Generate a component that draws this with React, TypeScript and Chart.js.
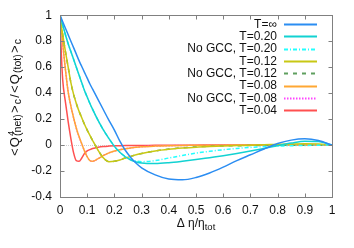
import React, { useEffect, useRef } from "react";
import { Chart, registerables } from "chart.js";

Chart.register(...registerables);

const xGrid = [0, 0.005, 0.01, 0.02, 0.03, 0.04, 0.05, 0.06, 0.07, 0.08, 0.09, 0.1, 0.11, 0.12, 0.14, 0.16, 0.18, 0.2, 0.22, 0.24, 0.26, 0.28, 0.3, 0.35, 0.4, 0.45, 0.5, 0.55, 0.6, 0.65, 0.7, 0.75, 0.8, 0.85, 0.9, 0.95, 1];

const tInf = [1, 0.975, 0.95, 0.9, 0.85, 0.8, 0.75, 0.7, 0.65, 0.605, 0.56, 0.515, 0.47, 0.43, 0.35, 0.27, 0.19, 0.115, 0.03, -0.04, -0.095, -0.14, -0.175, -0.23, -0.262, -0.268, -0.25, -0.215, -0.17, -0.12, -0.075, -0.03, 0.012, 0.038, 0.048, 0.035, 0];
const t020 = [1, 0.96, 0.925, 0.85, 0.78, 0.72, 0.66, 0.6, 0.54, 0.48, 0.42, 0.37, 0.32, 0.275, 0.19, 0.115, 0.05, -0.01, -0.055, -0.09, -0.115, -0.13, -0.138, -0.142, -0.136, -0.125, -0.112, -0.097, -0.082, -0.065, -0.046, -0.026, -0.005, 0.015, 0.03, 0.027, 0];
const noGcc020 = [1, 0.96, 0.925, 0.85, 0.78, 0.72, 0.66, 0.6, 0.54, 0.48, 0.42, 0.37, 0.32, 0.275, 0.19, 0.115, 0.05, -0.01, -0.055, -0.088, -0.11, -0.123, -0.128, -0.12, -0.1, -0.08, -0.062, -0.048, -0.036, -0.026, -0.018, -0.012, -0.008, -0.005, -0.003, -0.001, 0];
const t012 = [1, 0.92, 0.85, 0.72, 0.6, 0.48, 0.39, 0.32, 0.26, 0.21, 0.16, 0.115, 0.075, 0.035, -0.04, -0.1, -0.128, -0.125, -0.115, -0.1, -0.087, -0.075, -0.065, -0.045, -0.032, -0.023, -0.016, -0.011, -0.007, -0.004, -0.001, 0.002, 0.005, 0.008, 0.01, 0.008, 0];
const noGcc012 = [1, 0.92, 0.85, 0.72, 0.6, 0.48, 0.39, 0.32, 0.26, 0.21, 0.16, 0.115, 0.075, 0.035, -0.04, -0.1, -0.128, -0.125, -0.115, -0.1, -0.087, -0.075, -0.065, -0.045, -0.031, -0.021, -0.014, -0.01, -0.007, -0.005, -0.004, -0.003, -0.002, -0.001, -0.001, 0, 0];
const t008 = [1, 0.89, 0.78, 0.58, 0.41, 0.3, 0.21, 0.13, 0.065, 0.01, -0.045, -0.09, -0.12, -0.125, -0.105, -0.08, -0.06, -0.046, -0.036, -0.028, -0.022, -0.017, -0.013, -0.008, -0.005, -0.003, -0.002, -0.001, -0.001, 0, 0, 0, 0, 0, 0, 0, 0];
const noGcc008 = [1, 0.89, 0.78, 0.58, 0.41, 0.3, 0.21, 0.13, 0.065, 0.01, -0.045, -0.09, -0.12, -0.125, -0.105, -0.08, -0.06, -0.046, -0.036, -0.028, -0.022, -0.017, -0.013, -0.008, -0.005, -0.003, -0.002, -0.001, -0.001, 0, 0, 0, 0, 0, 0, 0, 0];
const t004 = [1, 0.7, 0.5, 0.33, 0.18, 0.05, -0.06, -0.12, -0.125, -0.1, -0.065, -0.045, -0.035, -0.027, -0.017, -0.011, -0.008, -0.006, -0.005, -0.004, -0.004, -0.003, -0.003, -0.002, -0.002, -0.001, -0.001, 0, 0, 0, 0, 0, 0, 0, 0, 0, 0];

const seriesLabels = ["T=∞", "T=0.20", "No GCC, T=0.20", "T=0.12", "No GCC, T=0.12", "T=0.08", "No GCC, T=0.08", "T=0.04"];
const seriesValues = [tInf, t020, noGcc020, t012, noGcc012, t008, noGcc008, t004];
const seriesColors = ["#2b8df2", "#12d2d2", "#22ffff", "#c8c814", "#5f9f5f", "#ffa733", "#ff44ff", "#ff5050"];
const seriesDash: number[][] = [[], [], [4, 2, 1, 2], [], [4, 5], [], [1.5, 1.5], []];

const xTicks = [0, 0.1, 0.2, 0.3, 0.4, 0.5, 0.6, 0.7, 0.8, 0.9, 1];
const xTickLabels = ["0", "0.1", "0.2", "0.3", "0.4", "0.5", "0.6", "0.7", "0.8", "0.9", "1"];
const yTicks = [-0.4, -0.2, 0, 0.2, 0.4, 0.6, 0.8, 1];
const yTickLabels = ["-0.4", "-0.2", "0", "0.2", "0.4", "0.6", "0.8", "1"];

const FONT = '"Liberation Sans", Arial, sans-serif';

const framePlugin = {
  id: "frame",
  beforeDatasetsDraw(chart: any) {
    const { ctx, chartArea: a, scales } = chart;
    const y0 = scales.y.getPixelForValue(0);
    ctx.save();
    ctx.strokeStyle = "#cfcfcf";
    ctx.lineWidth = 1;
    ctx.setLineDash([1, 1]);
    ctx.beginPath();
    ctx.moveTo(a.left, Math.round(y0) + 0.5);
    ctx.lineTo(a.right, Math.round(y0) + 0.5);
    ctx.stroke();
    ctx.restore();
  },
  afterDatasetsDraw(chart: any) {
    const { ctx, chartArea: a, scales } = chart;
    ctx.save();
    ctx.strokeStyle = "#808080";
    ctx.lineWidth = 1;
    const L = Math.round(a.left) + 0.5, R = Math.round(a.right) + 0.5, T = Math.round(a.top) + 0.5, B = Math.round(a.bottom) + 0.5;
    ctx.strokeRect(L, T, R - L, B - T);
    const tl = 4;
    ctx.beginPath();
    for (const v of xTicks) {
      const px = Math.round(scales.x.getPixelForValue(v)) + 0.5;
      ctx.moveTo(px, B); ctx.lineTo(px, B - tl);
      ctx.moveTo(px, T); ctx.lineTo(px, T + tl);
    }
    for (const v of yTicks) {
      const py = Math.round(scales.y.getPixelForValue(v)) + 0.5;
      ctx.moveTo(L, py); ctx.lineTo(L + tl, py);
      ctx.moveTo(R, py); ctx.lineTo(R - tl, py);
    }
    ctx.stroke();
    ctx.restore();
  },
  afterDraw(chart: any) {
    const { ctx, chartArea: a } = chart;
    ctx.save();
    ctx.font = `12px ${FONT}`;
    ctx.textAlign = "right";
    ctx.textBaseline = "middle";
    chart.data.datasets.forEach((ds: any, i: number) => {
      const y = 24 + i * 12.3;
      ctx.fillStyle = "#111";
      ctx.fillText(ds.label, 277, y + 0.5);
      ctx.save();
      ctx.strokeStyle = ds.borderColor;
      ctx.lineWidth = 2;
      ctx.setLineDash(ds.borderDash || []);
      ctx.beginPath();
      ctx.moveTo(284, Math.round(y) + 0.5);
      ctx.lineTo(317, Math.round(y) + 0.5);
      ctx.stroke();
      ctx.restore();
    });
    type Seg = { t: string; size: number; dy: number; stackWithNext?: boolean };
    const layout = (segs: Seg[], gap: number, draw: boolean) => {
      let x = 0;
      let i = 0;
      while (i < segs.length) {
        const s = segs[i];
        ctx.font = `${s.size}px ${FONT}`;
        if (draw) ctx.fillText(s.t, x, s.dy);
        let w = ctx.measureText(s.t).width;
        if (s.stackWithNext && i + 1 < segs.length) {
          const n = segs[i + 1];
          ctx.font = `${n.size}px ${FONT}`;
          if (draw) ctx.fillText(n.t, x, n.dy);
          w = Math.max(w, ctx.measureText(n.t).width);
          i++;
        }
        x += w + (i < segs.length - 1 ? gap : 0);
        i++;
      }
      return x;
    };
    ctx.fillStyle = "#111";
    ctx.textAlign = "left";
    ctx.textBaseline = "alphabetic";
    const yTitle: Seg[] = [
      { t: "<", size: 13, dy: 0 },
      { t: "Q", size: 13, dy: 0 },
      { t: "4", size: 9.5, dy: -4.5, stackWithNext: true },
      { t: "(net)", size: 10.5, dy: 2.5 },
      { t: ">", size: 13, dy: 0 },
      { t: "c", size: 10.5, dy: 2.5 },
      { t: "/", size: 13, dy: 0 },
      { t: "<", size: 13, dy: 0 },
      { t: "Q", size: 13, dy: 0 },
      { t: "(tot)", size: 10.5, dy: 2.5 },
      { t: ">", size: 13, dy: 0 },
      { t: "c", size: 10.5, dy: 2.5 },
    ];
    const wy = layout(yTitle, 1.2, false);
    ctx.save();
    ctx.translate(18.5, 97.5 + wy / 2);
    ctx.rotate(-Math.PI / 2);
    layout(yTitle, 1.2, true);
    ctx.restore();
    const xTitle: Seg[] = [
      { t: "Δ η/η", size: 12, dy: 0 },
      { t: "tot", size: 9.5, dy: 3 },
    ];
    const wx = layout(xTitle, 0, false);
    ctx.save();
    ctx.translate((a.left + a.right) / 2 - wx / 2, 227);
    layout(xTitle, 0, true);
    ctx.restore();
    ctx.restore();
  },
};

export default function App() {
  const ref = useRef<HTMLCanvasElement | null>(null);
  useEffect(() => {
    if (!ref.current) return;
    const chart = new Chart(ref.current, {
      type: "line",
      data: {
        datasets: seriesLabels.map((label, i) => ({
          label,
          data: xGrid.map((x, j) => ({ x, y: seriesValues[i][j] })),
          borderColor: seriesColors[i],
          backgroundColor: seriesColors[i],
          borderDash: seriesDash[i],
          borderWidth: 1.5,
          pointRadius: 0,
          cubicInterpolationMode: "monotone" as const,
          fill: false,
        })),
      },
      options: {
        responsive: false,
        animation: false,
        devicePixelRatio: 1,
        layout: { padding: { top: 15, right: 22, left: 0, bottom: 0 } },
        plugins: { legend: { display: false }, tooltip: { enabled: false } },
        scales: {
          x: {
            type: "linear",
            min: 0,
            max: 1,
            grid: { display: false, drawTicks: false },
            border: { display: false },
            afterFit: (s: any) => { s.height = 51; },
            afterBuildTicks: (s: any) => { s.ticks = xTicks.map((v) => ({ value: v })); },
            ticks: {
              padding: 6,
              color: "#111",
              font: { family: FONT, size: 12 },
              maxRotation: 0,
              autoSkip: false,
              callback: (_v: any, i: number) => xTickLabels[i],
            },
          },
          y: {
            type: "linear",
            min: -0.4,
            max: 1,
            grid: { display: false, drawTicks: false },
            border: { display: false },
            afterFit: (s: any) => { s.width = 60; },
            afterBuildTicks: (s: any) => { s.ticks = yTicks.map((v) => ({ value: v })); },
            ticks: {
              padding: 8,
              color: "#111",
              font: { family: FONT, size: 12 },
              autoSkip: false,
              callback: (_v: any, i: number) => yTickLabels[i],
            },
          },
        },
      },
      plugins: [framePlugin],
    });
    return () => chart.destroy();
  }, []);
  return (
    <div style={{ position: "fixed", left: 0, top: 0, width: 354, height: 248, background: "#fff" }}>
      <canvas ref={ref} width={354} height={248} style={{ width: 354, height: 248 }} />
    </div>
  );
}
